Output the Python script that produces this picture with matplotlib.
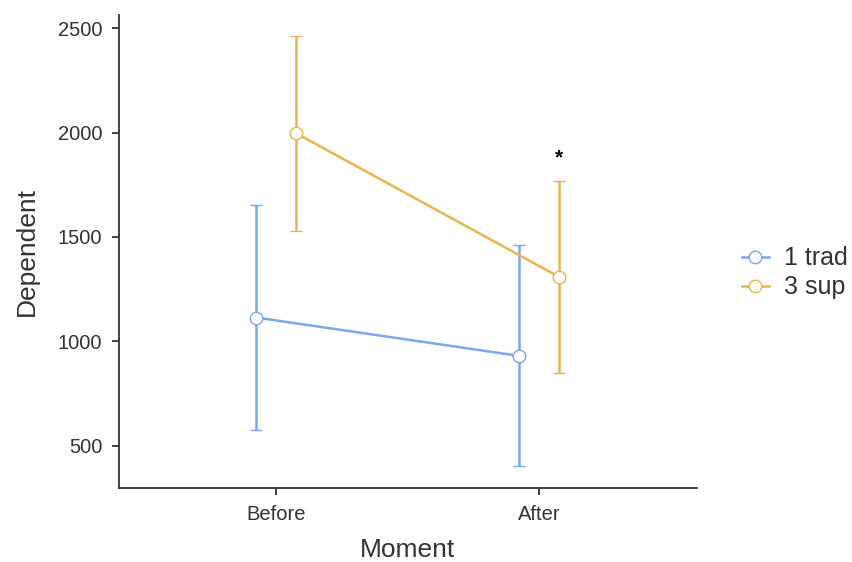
import matplotlib
matplotlib.use('Agg')
import matplotlib.pyplot as plt
from matplotlib.lines import Line2D
import numpy as np

plt.rcParams['font.family'] = ['Liberation Sans', 'DejaVu Sans']

# data
moments = ['Before', 'After']
groups = ['1 trad', '3 sup']
means = {
    '1 trad': [1114, 930],
    '3 sup': [1997, 1308],
}
lower = {
    '1 trad': [575, 403],
    '3 sup': [1530, 849],
}
upper = {
    '1 trad': [1655, 1462],
    '3 sup': [2465, 1767],
}
star_moment = 'After'
star_group = '3 sup'
star_y = 1880

COLORS = {'1 trad': '#7BA7EC', '3 sup': '#EBB54F'}
DODGE = {'1 trad': -0.075, '3 sup': 0.077}
AXIS_COL = '#333333'
TEXT_COL = '#333333'

fig = plt.figure(figsize=(8.52, 5.62), dpi=100)
ax = fig.add_axes([0.1397, 0.1317, 0.6783, 0.8416])

x = np.arange(len(moments))
handles = []
for g in groups:
    xs = x + DODGE[g]
    m = np.array(means[g])
    lo = m - np.array(lower[g])
    hi = np.array(upper[g]) - m
    ax.errorbar(xs, m, yerr=[lo, hi], color=COLORS[g], lw=1.8, capsize=4.5,
                capthick=1.8, marker='o', markersize=9, markerfacecolor='white',
                markeredgecolor=COLORS[g], markeredgewidth=1.0, zorder=3)
    handles.append(Line2D([], [], color=COLORS[g], lw=1.8, marker='o',
                          markersize=9, markerfacecolor='white',
                          markeredgecolor=COLORS[g], markeredgewidth=1.0,
                          label=g))

si = moments.index(star_moment)
ax.text(x[si] + DODGE[star_group], star_y, '*', ha='center', va='center',
        fontsize=15, fontweight='bold', color='black')

ax.set_xlim(-0.596, 1.600)
ax.set_ylim(297, 2564)
ax.set_xticks(x)
ax.set_xticklabels(moments)
ax.set_yticks([500, 1000, 1500, 2000, 2500])

for side in ['top', 'right']:
    ax.spines[side].set_visible(False)
for side in ['left', 'bottom']:
    ax.spines[side].set_color(AXIS_COL)
    ax.spines[side].set_linewidth(1.3)
ax.tick_params(axis='both', colors=AXIS_COL, labelcolor=TEXT_COL,
               labelsize=14.5, length=5, width=1.3, pad=7)

ax.set_xlabel('Moment', fontsize=19, color=TEXT_COL, labelpad=10)
ax.set_ylabel('Dependent', fontsize=19, color=TEXT_COL, labelpad=14)

leg = ax.legend(handles=handles, loc='center left', bbox_to_anchor=(1.06, 0.455),
                frameon=False, fontsize=18, handlelength=1.1, handletextpad=0.6,
                labelspacing=0.2, labelcolor=TEXT_COL, borderaxespad=0)

fig.savefig('out.png', dpi=100, facecolor='white')
plt.close()
